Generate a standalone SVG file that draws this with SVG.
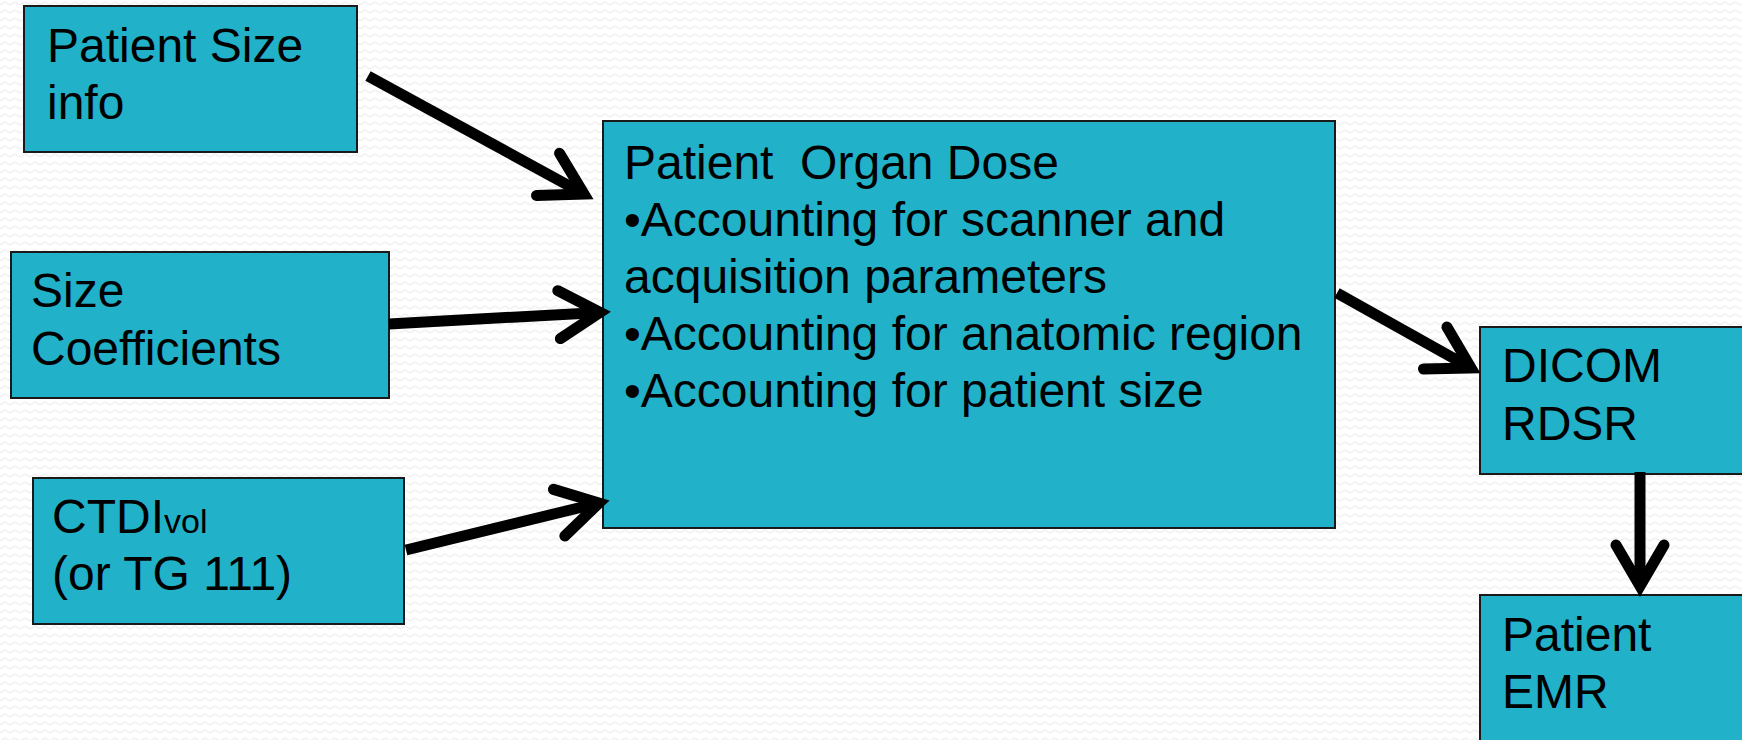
<svg xmlns="http://www.w3.org/2000/svg" width="1742" height="740" viewBox="0 0 1742 740">
  <style>
    .box { fill: #21b1c9; stroke: #1a1a1a; stroke-width: 2; }
    .lbl { font-family: "Liberation Sans", Arial, sans-serif; font-size: 48px; fill: #000; white-space: pre; }
    .conn { stroke: #000; stroke-width: 11; fill: none; stroke-linecap: butt; }
  </style>
  <defs>
    <!-- faint zigzag texture behind everything -->
    <pattern id="zigzag" width="10" height="8" patternUnits="userSpaceOnUse">
      <path d="M0,5 L5,2 L10,5" fill="none" stroke="#f2f2f2" stroke-width="1.6"/>
    </pattern>
    <!-- open chevron arrowhead -->
    <marker id="chev" markerUnits="userSpaceOnUse" orient="auto" refX="0" refY="0" markerWidth="60" markerHeight="60" overflow="visible">
      <path d="M-41,-24 L0,0 L-41,24" fill="none" stroke="#000" stroke-width="11" stroke-linejoin="miter" stroke-linecap="round"/>
    </marker>
  </defs>

  <rect width="1742" height="740" fill="#ffffff"/>
  <rect width="1742" height="740" fill="url(#zigzag)"/>

  <g id="node-patient-size-info">
    <rect class="box" x="24" y="6" width="333" height="146"/>
    <text class="lbl" x="47" y="62">Patient Size</text>
    <text class="lbl" x="47" y="119">info</text>
  </g>

  <g id="node-size-coefficients">
    <rect class="box" x="11" y="252" width="378" height="146"/>
    <text class="lbl" x="31" y="307">Size</text>
    <text class="lbl" x="31" y="365">Coefficients</text>
  </g>

  <g id="node-ctdivol">
    <rect class="box" x="33" y="478" width="371" height="146"/>
    <text class="lbl" x="52" y="533">CTDI<tspan font-size="34">vol</tspan></text>
    <text class="lbl" x="52" y="590">(or TG 111)</text>
  </g>

  <g id="node-organ-dose">
    <rect class="box" x="603" y="121" width="732" height="407"/>
    <text class="lbl" x="624" y="179">Patient  Organ Dose</text>
    <text class="lbl" x="624" y="236">•Accounting for scanner and</text>
    <text class="lbl" x="624" y="293">acquisition parameters</text>
    <text class="lbl" x="624" y="350">•Accounting for anatomic region</text>
    <text class="lbl" x="624" y="407">•Accounting for patient size</text>
  </g>

  <g id="node-dicom-rdsr">
    <rect class="box" x="1480" y="327" width="280" height="147"/>
    <text class="lbl" x="1502" y="382">DICOM</text>
    <text class="lbl" x="1502" y="440">RDSR</text>
  </g>

  <g id="node-patient-emr">
    <rect class="box" x="1480" y="595" width="280" height="160"/>
    <text class="lbl" x="1502" y="651">Patient</text>
    <text class="lbl" x="1502" y="708">EMR</text>
  </g>

  <g id="connectors">
    <line class="conn" x1="368" y1="76" x2="584" y2="194" marker-end="url(#chev)"/>
    <line class="conn" x1="389" y1="324" x2="600" y2="312.4" marker-end="url(#chev)"/>
    <line class="conn" x1="406" y1="550" x2="599" y2="503" marker-end="url(#chev)"/>
    <line class="conn" x1="1337" y1="293" x2="1471" y2="368" marker-end="url(#chev)"/>
    <line class="conn" x1="1640" y1="472" x2="1640" y2="586" marker-end="url(#chev)"/>
  </g>
</svg>
